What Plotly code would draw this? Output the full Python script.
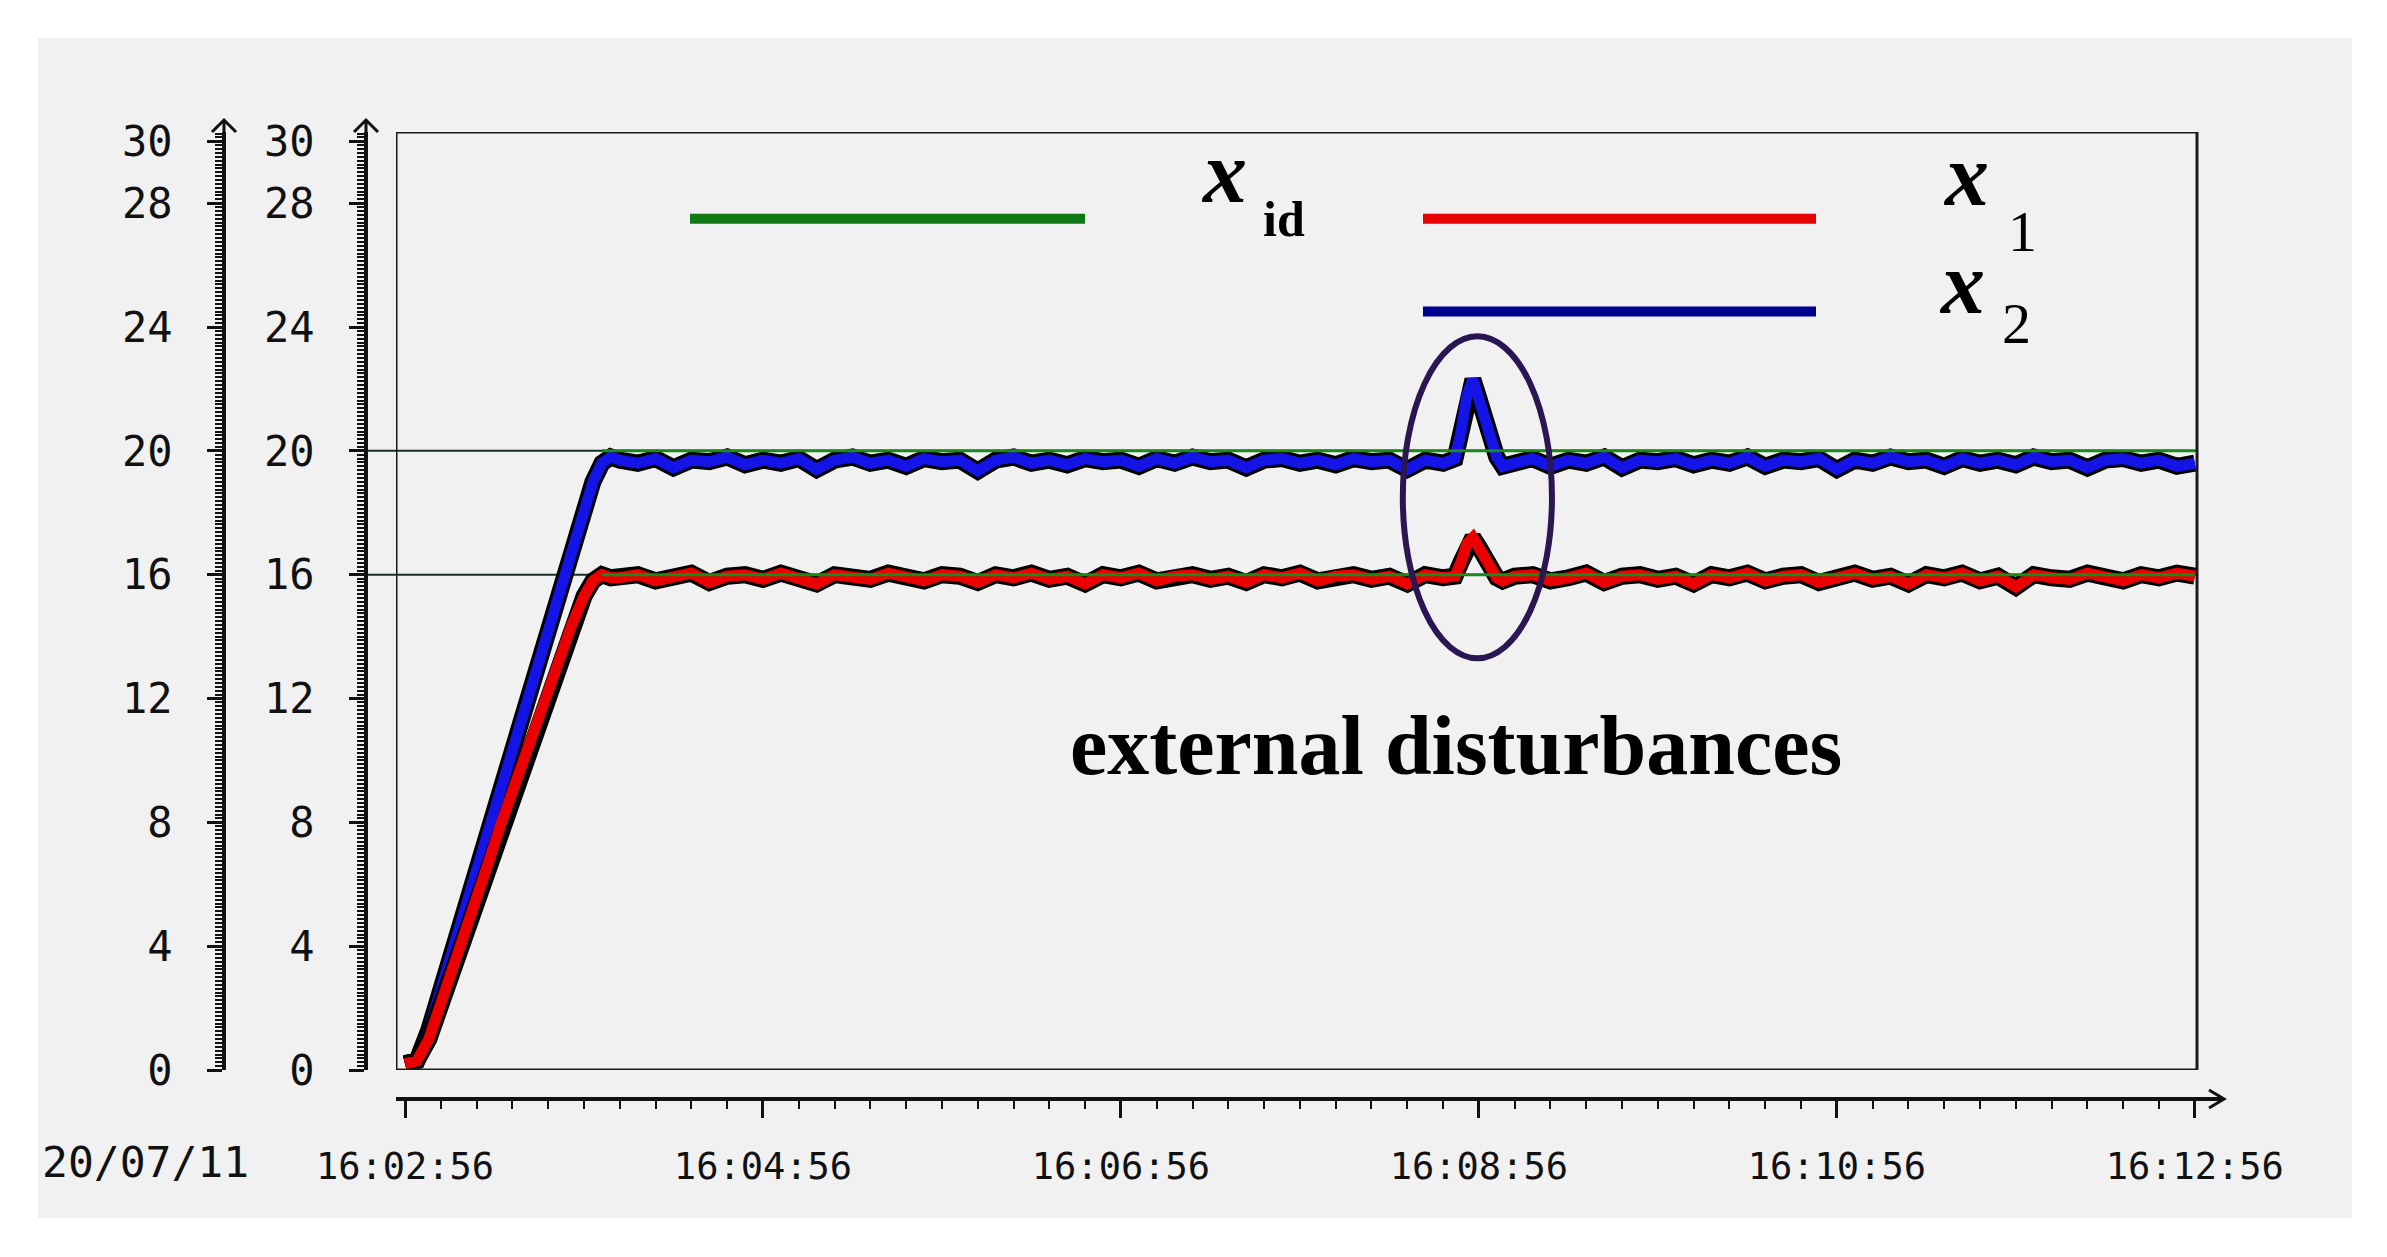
import plotly.graph_objects as go

# ---------------- data (seconds after 16:02:56) ----------------
t_sec = [0, 4, 8, 12, 16, 20, 24, 28, 32, 36, 40, 44, 48, 52, 56, 60, 63, 66, 69,
         72, 78, 84, 90, 96, 102, 108, 114, 120, 126, 132, 138, 144, 150, 156, 162, 168, 174,
         180, 186, 192, 198, 204, 210, 216, 222, 228, 234, 240, 246, 252, 258, 264, 270, 276,
         282, 288, 294, 300, 306, 312, 318, 324, 330, 336, 342, 348,
         352, 354, 356, 358, 360, 362, 364, 366, 368,
         372, 378, 384, 390, 396, 402, 408, 414, 420, 426, 432, 438, 444, 450, 456, 462, 468,
         474, 480, 486, 492, 498, 504, 510, 516, 522, 528, 534, 540, 546, 552, 558, 564, 570,
         576, 582, 588, 594, 600]

x2_vals = [0.2, 0.3, 1.3, 2.6, 3.9, 5.3, 6.4, 7.9, 9.2, 10.4, 11.7, 13.1, 14.4, 15.7, 17.0, 18.2, 19.0, 19.6, 19.8,
           19.7, 19.6, 19.75, 19.45, 19.7, 19.65, 19.8, 19.55, 19.7, 19.6, 19.75, 19.4, 19.7, 19.8, 19.6, 19.7,
           19.5, 19.75, 19.65, 19.7, 19.35, 19.7, 19.8, 19.6, 19.7, 19.55, 19.75, 19.65, 19.7, 19.5, 19.75, 19.6,
           19.8, 19.65, 19.7, 19.45, 19.7, 19.75, 19.6, 19.7, 19.55, 19.75, 19.65, 19.7, 19.4, 19.7, 19.6,
           19.75, 20.6, 21.8, 22.3, 21.7, 21.0, 20.3, 19.8, 19.5,
           19.6, 19.75, 19.5, 19.7, 19.6, 19.8, 19.45, 19.7, 19.65, 19.75, 19.55, 19.7, 19.6, 19.8, 19.5, 19.7,
           19.65, 19.75, 19.4, 19.7, 19.6, 19.8, 19.65, 19.7, 19.5, 19.75, 19.6, 19.7, 19.55, 19.8, 19.65, 19.7,
           19.45, 19.7, 19.75, 19.6, 19.7, 19.5, 19.6]

x1_vals = [0.2, 0.3, 1.0, 2.1, 3.2, 4.4, 5.5, 6.7, 7.9, 9.0, 10.2, 11.2, 12.3, 13.5, 14.4, 15.3, 15.8, 16.0, 15.9,
           15.9, 16.0, 15.8, 15.95, 16.05, 15.75, 15.95, 16.0, 15.85, 16.05, 15.9, 15.7, 16.0, 15.95, 15.85, 16.05,
           15.9, 15.8, 16.0, 15.95, 15.75, 16.0, 15.9, 16.05, 15.85, 15.95, 15.7, 16.0, 15.9, 16.05, 15.8, 15.95,
           16.0, 15.85, 15.95, 15.75, 16.0, 15.9, 16.05, 15.8, 15.95, 16.0, 15.85, 15.95, 15.7, 16.0, 15.9,
           15.95, 16.4, 17.0, 17.2, 16.9, 16.5, 16.15, 15.9, 15.8,
           15.95, 16.0, 15.8, 15.9, 16.05, 15.75, 15.95, 16.0, 15.85, 15.95, 15.7, 16.0, 15.9, 16.05, 15.8, 15.95,
           16.0, 15.75, 15.9, 16.05, 15.85, 15.95, 15.7, 16.0, 15.9, 16.05, 15.8, 15.95, 15.6, 16.0, 15.9, 15.85,
           16.05, 15.95, 15.8, 16.0, 15.9, 16.05, 15.95]

xid_t = [66, 600]
xid_1 = [16, 16]
xid_2 = [20, 20]

x_tickvals = [0, 120, 240, 360, 480, 600]
x_ticktext = ["16:02:56", "16:04:56", "16:06:56", "16:08:56", "16:10:56", "16:12:56"]
y_tickvals = [0, 4, 8, 12, 16, 20, 24, 28, 30]
date_label = "20/07/11"

# ---------------- layout helpers (pixels) ----------------
W, H = 2387, 1257
ML, MR, MT, MB = 38, 35, 120, 158
PW, PH = W - ML - MR, H - MT - MB


def px_x(p):
    return (p - ML) / PW


def px_y(p):
    return (H - MB - p) / PH


PPS = 2.983                  # pixels per second
T0PX = 405                   # pixel of t=0
def t_of(p):
    return (p - T0PX) / PPS


YTOP = 30.3
BLACK = "#111111"

fig = go.Figure()

# data traces: black shadow + coloured line
for vals, col in [(x2_vals, "#1414e6"), (x1_vals, "#ea0000")]:
    fig.add_trace(go.Scatter(x=t_sec, y=vals, mode="lines",
                             line=dict(color="#000000", width=17), hoverinfo="skip", showlegend=False))
    fig.add_trace(go.Scatter(x=t_sec, y=vals, mode="lines",
                             line=dict(color=col, width=11), name="", showlegend=False))

for vals in (xid_1, xid_2):
    fig.add_trace(go.Scatter(x=xid_t, y=vals, mode="lines",
                             line=dict(color="#1a8a1a", width=3), hoverinfo="skip", showlegend=False))

# dummy traces to register the free y axes
for ya in ("y2", "y3"):
    fig.add_trace(go.Scatter(x=[None], y=[None], yaxis=ya, mode="lines", showlegend=False, hoverinfo="skip"))

ydom = [px_y(1070), px_y(132)]

yaxis_common = dict(range=[0, YTOP], tickmode="array", tickvals=y_tickvals,
                    ticks="outside", ticklen=15, tickwidth=3, tickcolor=BLACK,
                    showline=True, linewidth=4, linecolor=BLACK,
                    showgrid=False, zeroline=False, automargin=False,
                    tickfont=dict(family="DejaVu Sans Mono", size=42, color=BLACK),
                    ticklabelstandoff=26,
                    minor=dict(tickmode="linear", tick0=0, dtick=0.125, ticks="outside",
                               ticklen=7, tickwidth=2, tickcolor=BLACK, showgrid=False))

shapes = [
    # grey panel
    dict(type="rect", xref="paper", yref="paper", x0=px_x(38), x1=px_x(2352), y0=px_y(1218), y1=px_y(38),
         fillcolor="#f1f1f1", line=dict(width=0), layer="below"),
    # reference lines from second axis across the plot
    dict(type="line", xref="paper", yref="y", x0=px_x(366), x1=px_x(2197), y0=20, y1=20,
         line=dict(color="#14302a", width=2), layer="below"),
    dict(type="line", xref="paper", yref="y", x0=px_x(366), x1=px_x(2197), y0=16, y1=16,
         line=dict(color="#14302a", width=2), layer="below"),
    # plot frame
    dict(type="rect", xref="x", yref="y", x0=t_of(396), x1=t_of(2197), y0=0, y1=YTOP,
         line=dict(color="#1a1a1a", width=3), layer="above"),
    # disturbance ellipse
    dict(type="circle", xref="x", yref="y", x0=334.5, x1=384.5, y0=13.3, y1=23.7,
         line=dict(color="#2a1652", width=6), layer="above"),
    # legend lines
    dict(type="line", xref="x", yref="y", x0=t_of(690), x1=t_of(1085), y0=27.5, y1=27.5,
         line=dict(color="#0f7a14", width=10)),
    dict(type="line", xref="x", yref="y", x0=t_of(1423), x1=t_of(1816), y0=27.5, y1=27.5,
         line=dict(color="#e60000", width=10)),
    dict(type="line", xref="x", yref="y", x0=t_of(1423), x1=t_of(1816), y0=24.5, y1=24.5,
         line=dict(color="#00008e", width=10)),
    # axis arrows
    dict(type="path", xref="paper", yref="paper", xsizemode="pixel", ysizemode="pixel",
         xanchor=px_x(2224), yanchor=0, path="M -15 9 L 0 0 L -15 -9",
         line=dict(color=BLACK, width=3)),
]
for axp in (224, 366):
    shapes.append(dict(type="path", xref="paper", yref="paper", xsizemode="pixel", ysizemode="pixel",
                       xanchor=px_x(axp), yanchor=px_y(120),
                       path="M -12 -12 L 0 0 L 12 -12 M 0 0 L 0 -14",
                       line=dict(color=BLACK, width=3)))

ann_font = dict(family="Liberation Serif", color="#000000")
annotations = [
    dict(text=date_label, xref="paper", yref="paper", x=px_x(145), y=px_y(1162),
         showarrow=False, font=dict(family="DejaVu Sans Mono", size=43, color=BLACK),
         xanchor="center", yanchor="middle"),
    dict(text="<b>external disturbances</b>", xref="x", yref="y", x=t_of(1456), y=10.47,
         showarrow=False, font=dict(size=84, **ann_font), xanchor="center", yanchor="middle"),
    dict(text="<b><i>x</i></b>", xref="x", yref="y", x=t_of(1224), y=29.0,
         showarrow=False, font=dict(size=88, **ann_font), xanchor="center", yanchor="middle",
         borderpad=0),
    dict(text="<b>id</b>", xref="x", yref="y", x=t_of(1284), y=27.5,
         showarrow=False, font=dict(size=50, **ann_font), xanchor="center", yanchor="middle",
         borderpad=0),
    dict(text="<b><i>x</i></b>", xref="x", yref="y", x=t_of(1966), y=28.9,
         showarrow=False, font=dict(size=88, **ann_font), xanchor="center", yanchor="middle",
         borderpad=0),
    dict(text="1", xref="x", yref="y", x=t_of(2022), y=27.1,
         showarrow=False, font=dict(size=58, **ann_font), xanchor="center", yanchor="middle",
         borderpad=0),
    dict(text="<b><i>x</i></b>", xref="x", yref="y", x=t_of(1962), y=25.4,
         showarrow=False, font=dict(size=88, **ann_font), xanchor="center", yanchor="middle",
         borderpad=0),
    dict(text="2", xref="x", yref="y", x=t_of(2016), y=24.1,
         showarrow=False, font=dict(size=58, **ann_font), xanchor="center", yanchor="middle",
         borderpad=0),
]

fig.update_layout(
    width=W, height=H,
    margin=dict(l=ML, r=MR, t=MT, b=MB, pad=0),
    paper_bgcolor="#ffffff",
    plot_bgcolor="rgba(0,0,0,0)",
    showlegend=False,
    xaxis=dict(domain=[px_x(396), px_x(2222)], range=[t_of(396), t_of(2222)],
               anchor="free", position=0,
               tickmode="array", tickvals=x_tickvals, ticktext=x_ticktext,
               ticks="outside", ticklen=17, tickwidth=3, tickcolor=BLACK,
               showline=True, linewidth=4, linecolor=BLACK,
               showgrid=False, zeroline=False, automargin=False,
               tickfont=dict(family="DejaVu Sans Mono", size=37, color=BLACK),
               ticklabelstandoff=17,
               minor=dict(tickmode="linear", tick0=0, dtick=12, ticks="outside",
                          ticklen=8, tickwidth=2, tickcolor=BLACK, showgrid=False)),
    yaxis=dict(domain=ydom, range=[0, YTOP], showline=False, showticklabels=False,
               ticks="", showgrid=False, zeroline=False, automargin=False),
    yaxis2=dict(overlaying="y", anchor="free", position=px_x(224), side="left", **yaxis_common),
    yaxis3=dict(overlaying="y", anchor="free", position=px_x(366), side="left", **yaxis_common),
    shapes=shapes,
    annotations=annotations,
)

fig.write_html("out.html", config={"displayModeBar": False},
               post_script="document.body.style.margin='0';")
